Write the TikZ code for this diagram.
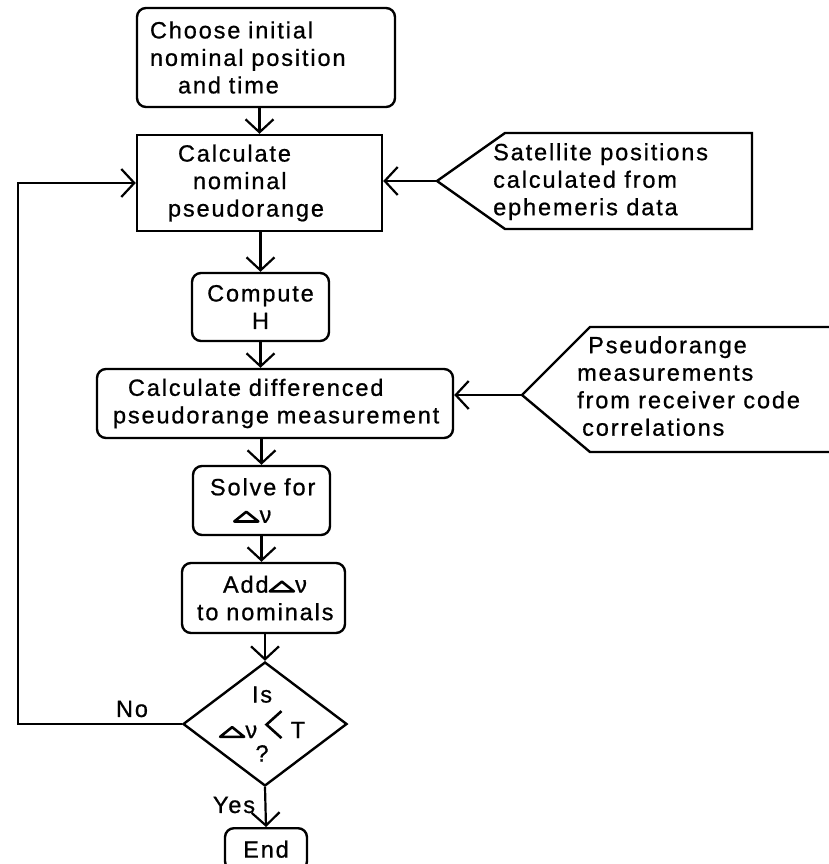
\documentclass[tikz,border=0pt]{standalone}
\usepackage{fontspec}
\setmainfont{Liberation Sans}[LetterSpace=8,FakeBold=0.8]
\usetikzlibrary{arrows.meta,shapes.geometric}

% bold open triangle used as the "delta" sign
\newcommand{\dtri}{\tikz[baseline=0pt]\draw[sharp corners,line width=2.6pt,line join=round] (0pt,1.3pt) -- (24pt,1.3pt) -- (12pt,11pt) -- cycle;}
% tall "less than" chevron
\newcommand{\ltmark}{\tikz[baseline=0pt]\draw[sharp corners,line width=2.6pt] (15pt,27pt) -- (0pt,13.5pt) -- (15pt,0pt);}

\tikzset{
  every node/.style={font=\fontsize{23.5pt}{27.5pt}\selectfont},
  box/.style={draw, line width=2.4pt, rounded corners=9pt, inner xsep=8pt, inner ysep=0pt, align=left},
  sqbox/.style={box, sharp corners},
  shape line/.style={line width=2.4pt, line join=miter},
  arr/.style={line width=2.2pt, -{Straight Barb[length=13pt,width=28pt]}},
  lbl/.style={inner sep=0pt},
  ptext/.style={inner sep=0pt, align=left, anchor=north west},
}

\begin{document}
\begin{tikzpicture}[x=1pt,y=-1pt]
\useasboundingbox (0,0) rectangle (829,864);
\clip (0,0) rectangle (829,864);

% main chain of steps
\node[box, minimum width=258pt, minimum height=99pt, text width=242pt] (start) at (266,57.5)
  {\hspace*{5pt}Choose initial\\\hspace*{5pt}nominal position\\\hspace*{33pt}and time};
\node[sqbox, minimum width=245pt, minimum height=96pt, text width=229pt] (nominal) at (259.5,183)
  {\hspace*{33pt}Calculate\\\hspace*{48pt}nominal\\\hspace*{23pt}pseudorange};
\node[box, minimum width=137pt, minimum height=68pt, align=center] (computeH) at (260.5,307)
  {Compute\\H};
\node[box, minimum width=356pt, minimum height=69pt, text width=340pt] (diffmeas) at (275,403.5)
  {\hspace*{23pt}Calculate differenced\\\hspace*{8pt}pseudorange measurement};
\node[box, minimum width=137pt, minimum height=69pt, text width=121pt] (solve) at (261.5,500.5)
  {\hspace*{9pt}Solve for\\\hspace*{32pt}\dtri ν};
\node[box, minimum width=163pt, minimum height=70pt, text width=147pt] (addnom) at (263.5,598)
  {\hspace*{33pt}Add\dtri ν\\\hspace*{7pt}to nominals};
\node[draw, diamond, line width=2.4pt, minimum width=164pt, minimum height=124pt, inner sep=0pt] (test) at (265,724) {};
\node[lbl, align=center] (testtext) at (262,724)
  {Is\\[6pt]\dtri ν\hspace{8pt}\ltmark\hspace{8pt}T\\[-4pt]?};
\node[box, minimum width=82pt, minimum height=42pt, anchor=north, align=center] (finish) at (266,827) {End};

% data sources
\coordinate (sattip) at (437,181);
\draw[shape line] (sattip) -- (505,133) -- (752,133) -- (752,229) -- (505,229) -- cycle;
\node[ptext] (sattext) at (493,143)
  {Satellite positions\\calculated from\\ephemeris data};

\coordinate (meastip) at (522,395);
\draw[shape line] (840,327) -- (590,327) -- (meastip) -- (590,452) -- (840,452);
\node[ptext] (meastext) at (577,336)
  {\hspace*{11pt}Pseudorange\\measurements\\from receiver code\\\hspace*{5pt}correlations};

% flow connectors
\draw[arr] (start.south -| nominal.north) -- (nominal.north);
\draw[arr] (nominal.south -| computeH.north) -- (computeH.north);
\draw[arr] (computeH.south) -- (diffmeas.north -| computeH);
\draw[arr] (diffmeas.south -| solve) -- (solve.north);
\draw[arr] (solve.south) -- (addnom.north -| solve);
\draw[arr] (addnom.south -| test.north) -- (test.north);
\draw[arr] (test.south) -- (finish.north);
\draw[arr] (test.west) -- (18,724) |- (nominal.west);
\draw[arr] (sattip) -- (sattip -| nominal.east);
\draw[arr] (meastip) -- (meastip -| diffmeas.east);

% decision labels
\node[lbl] (nolbl) at (132,709) {No};
\node[lbl] (yeslbl) at (234,805) {Yes};
\end{tikzpicture}
\end{document}
